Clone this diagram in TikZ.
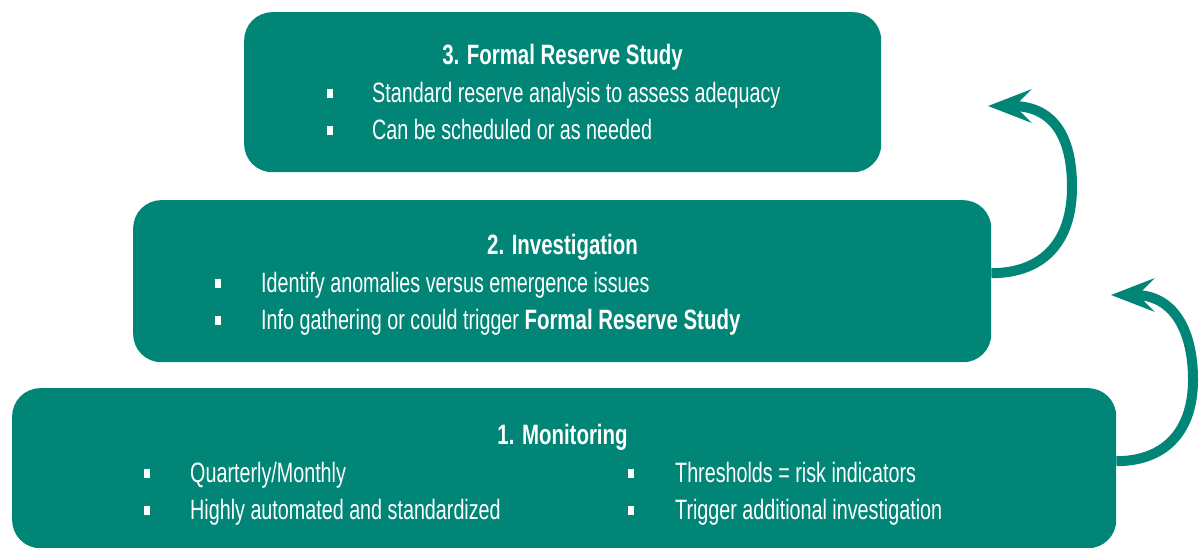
\documentclass[tikz,border=0pt]{standalone}
\usepackage{fontspec}
\setmainfont{Liberation Sans}[FakeStretch=0.705, BoldFeatures={FakeStretch=0.73}]
\usetikzlibrary{arrows.meta}
\definecolor{brandteal}{RGB}{0,133,118}

\begin{document}
\begin{tikzpicture}[x=1pt,y=-1pt,
  stage/.style={fill=brandteal, draw=none, rounded corners=28pt,
    inner sep=0pt, anchor=north west},
  heading/.style={text=white, inner sep=0pt, anchor=base,
    font=\fontsize{28}{34}\selectfont\bfseries},
  item/.style={text=white, inner sep=0pt, anchor=base west,
    font=\fontsize{28}{34}\selectfont},
  dot/.style={fill=white, inner sep=0pt, minimum width=6pt, minimum height=9pt},
  flow/.style={draw=brandteal, line width=10pt,
    -{Stealth[length=43pt, width=33pt, inset=16pt]}}
]
\useasboundingbox (0,0) rectangle (1199,548);

% three stacked stages
\node[stage, minimum width=637pt, minimum height=160pt] (box3) at (244,12) {};
\node[stage, minimum width=858pt, minimum height=162pt] (box2) at (133,200) {};
\node[stage, minimum width=1104pt, minimum height=160pt] (box1) at (12,388) {};

% stage 3
\node[heading] (h3) at (562.5,65) {3. Formal Reserve Study};
\node[dot] (d31) at (330,94) {};
\node[item] (i31) at (372,103) {Standard reserve analysis to assess adequacy};
\node[dot] (d32) at (330,131) {};
\node[item] (i32) at (372,140) {Can be scheduled or as needed};

% stage 2
\node[heading] (h2) at (562.5,254) {2. Investigation};
\node[dot] (d21) at (218,283) {};
\node[item] (i21) at (261,292) {Identify anomalies versus emergence issues};
\node[dot] (d22) at (218,320) {};
\node[item] (i22) at (261,329) {Info gathering or could trigger \textbf{Formal Reserve Study}};

% stage 1
\node[heading] (h1) at (562.5,444) {1. Monitoring};
\node[dot] (d11) at (147,473) {};
\node[item] (i11) at (190,482) {Quarterly/Monthly};
\node[dot] (d12) at (147,510) {};
\node[item] (i12) at (190,519) {Highly automated and standardized};
\node[dot] (d13) at (631,473) {};
\node[item] (i13) at (675,482) {Thresholds = risk indicators};
\node[dot] (d14) at (631,510) {};
\node[item] (i14) at (675,519) {Trigger additional investigation};

% escalation arrows
\coordinate (tip3) at (988,106);
\coordinate (tip2) at (1111,295);
\draw[flow] ([yshift=8pt]box2.east)
  .. controls (1045,273) and (1072,240) .. (1072,187)
  .. controls (1072,132) and (1050,106) .. (tip3);
\draw[flow] ([yshift=7pt]box1.east)
  .. controls (1168,461) and (1193,428) .. (1193,380)
  .. controls (1193,328) and (1172,295) .. (tip2);
\end{tikzpicture}
\end{document}
